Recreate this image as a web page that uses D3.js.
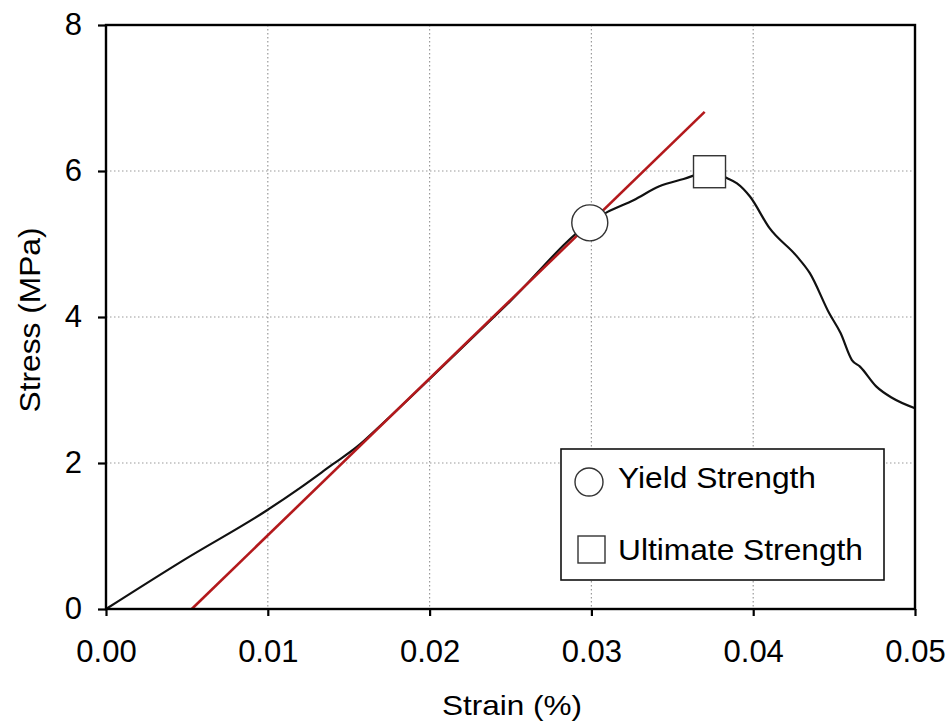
<!DOCTYPE html>
<html>
<head>
<meta charset="utf-8">
<script src="https://cdn.jsdelivr.net/npm/d3@7"></script>
<style>
  html, body { margin: 0; padding: 0; background: #fff; }
  svg { display: block; font-family: Arial, "Liberation Sans", sans-serif; }
</style>
</head>
<body>
<svg id="chart" width="951" height="723"></svg>
<script>
// ---- data ----
const curveStrain = [0, 0.0048, 0.0100, 0.0120, 0.0140, 0.0155, 0.0170, 0.0200, 0.0250, 0.0299,
  0.0310, 0.0326, 0.0342, 0.0357, 0.0373, 0.0384, 0.0390, 0.0398, 0.0410, 0.0427,
  0.0435, 0.0447, 0.0454, 0.0461, 0.0466, 0.0476, 0.0486, 0.0500];
const curveStress = [0, 0.67, 1.36, 1.66, 1.98, 2.22, 2.52, 3.15, 4.22, 5.29,
  5.44, 5.60, 5.79, 5.89, 5.99, 5.90, 5.83, 5.65, 5.22, 4.83,
  4.60, 4.05, 3.78, 3.41, 3.32, 3.05, 2.89, 2.75];
const offsetStrain = [0.0053, 0.0370];
const offsetStress = [0, 6.81];
const yieldPoint = [0.0299, 5.29];
const ultimatePoint = [0.0373, 5.99];
const xTicks = [0, 0.01, 0.02, 0.03, 0.04, 0.05];
const yTicks = [0, 2, 4, 6, 8];
const legendLabels = ["Yield Strength", "Ultimate Strength"];

// ---- layout ----
const svg = d3.select("#chart");
const L = 106, R = 915, T = 25, B = 609;
const x = d3.scaleLinear().domain([0, 0.05]).range([L, R]);
const y = d3.scaleLinear().domain([0, 8]).range([B, T]);

// grid
const grid = svg.append("g").attr("stroke", "#9a9a9a").attr("stroke-width", 1.2).attr("stroke-dasharray", "1.5,2.5");
grid.selectAll("line.gx").data(xTicks.slice(1, -1)).join("line")
  .attr("x1", d => x(d)).attr("x2", d => x(d)).attr("y1", T).attr("y2", B);
grid.selectAll("line.gy").data(yTicks.slice(1, -1)).join("line")
  .attr("x1", L).attr("x2", R).attr("y1", d => y(d)).attr("y2", d => y(d));

// curve
const line = d3.line().x(d => x(d[0])).y(d => y(d[1])).curve(d3.curveMonotoneX);
svg.append("path").datum(d3.zip(curveStrain, curveStress))
  .attr("d", line).attr("fill", "none").attr("stroke", "#111").attr("stroke-width", 2.2);

// offset line
svg.append("path").datum(d3.zip(offsetStrain, offsetStress))
  .attr("d", d3.line().x(d => x(d[0])).y(d => y(d[1])))
  .attr("fill", "none").attr("stroke", "#b3191c").attr("stroke-width", 2.6);

// markers
svg.append("circle").attr("cx", x(yieldPoint[0])).attr("cy", y(yieldPoint[1])).attr("r", 18)
  .attr("fill", "#fff").attr("stroke", "#333").attr("stroke-width", 1.4);
svg.append("rect").attr("x", x(ultimatePoint[0]) - 16).attr("y", y(ultimatePoint[1]) - 16)
  .attr("width", 32).attr("height", 32)
  .attr("fill", "#fff").attr("stroke", "#333").attr("stroke-width", 1.4);

// axes
const xAxis = d3.axisBottom(x).tickValues(xTicks).tickFormat(d3.format(".2f")).tickSize(7).tickPadding(24);
const yAxis = d3.axisLeft(y).tickValues(yTicks).tickFormat(d3.format("d")).tickSize(8).tickPadding(16);
const gx = svg.append("g").attr("transform", `translate(0,${B})`).call(xAxis);
const gy = svg.append("g").attr("transform", `translate(${L},0)`).call(yAxis);
[gx, gy].forEach(g => {
  g.select(".domain").remove();
  g.selectAll(".tick line").attr("stroke", "#000").attr("stroke-width", 2.2);
  g.selectAll(".tick text").attr("fill", "#000").style("font-size", "31px")
    .style("font-family", "Arial, 'Liberation Sans', sans-serif");
});
// frame
svg.append("rect").attr("x", L).attr("y", T).attr("width", R - L).attr("height", B - T)
  .attr("fill", "none").attr("stroke", "#000").attr("stroke-width", 2.4);

// axis titles
svg.append("text").attr("x", 512).attr("y", 715).attr("text-anchor", "middle")
  .attr("textLength", 140).attr("lengthAdjust", "spacingAndGlyphs")
  .style("font-size", "28px").text("Strain (%)");
svg.append("text").attr("transform", `translate(40,320) rotate(-90)`).attr("text-anchor", "middle")
  .attr("textLength", 185).attr("lengthAdjust", "spacingAndGlyphs")
  .style("font-size", "30px").text("Stress (MPa)");

// legend
const lg = svg.append("g");
lg.append("rect").attr("x", 561).attr("y", 449).attr("width", 323).attr("height", 131)
  .attr("fill", "#fff").attr("stroke", "#111").attr("stroke-width", 1.6);
lg.append("circle").attr("cx", 589).attr("cy", 482).attr("r", 14)
  .attr("fill", "#fff").attr("stroke", "#333").attr("stroke-width", 1.4);
lg.append("rect").attr("x", 578).attr("y", 536).attr("width", 27).attr("height", 27)
  .attr("fill", "#fff").attr("stroke", "#333").attr("stroke-width", 1.4);
const legendWidths = [198, 245];
lg.selectAll("text").data(legendLabels).join("text")
  .attr("x", 618).attr("y", (d, i) => 488 + i * 72)
  .attr("textLength", (d, i) => legendWidths[i]).attr("lengthAdjust", "spacingAndGlyphs")
  .style("font-size", "30px").attr("fill", "#000").text(d => d);
</script>
</body>
</html>
